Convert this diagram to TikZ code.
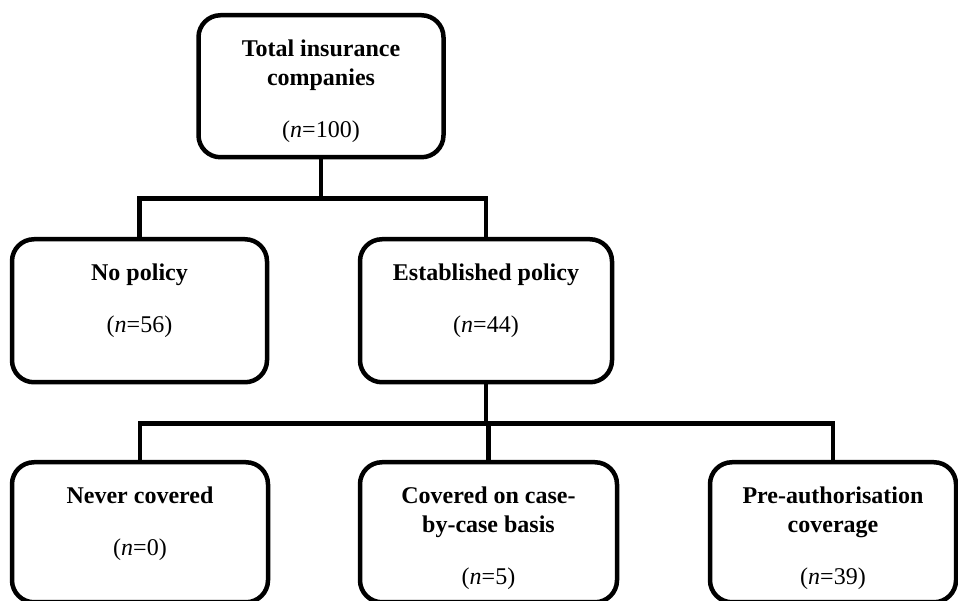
\documentclass[tikz,border=0pt]{standalone}
\usepackage{fontspec}
\setmainfont{Liberation Serif}

% text block set from the top of a box of fixed height
\newcommand{\boxtext}[2]{\parbox[c][#1][t]{240pt}{\centering\rule{0pt}{41pt}#2}}

\begin{document}
\begin{tikzpicture}[x=1pt,y=1pt,
	box/.style={draw, line width=4.5pt, rounded corners=22pt, anchor=north,
		inner sep=0pt, font=\fontsize{24}{29}\selectfont},
	link/.style={line width=4.5pt}]
	\useasboundingbox (0,0) rectangle (958,601);
	\node[box, minimum width=245pt] (total) at (321,588)
		{\boxtext{142pt}{\textbf{Total insurance}\\\textbf{companies}\\[23pt](\textit{n}=100)}};
	\node[box, minimum width=255pt] (nopol) at (139.5,364)
		{\boxtext{143pt}{\textbf{No policy}\\[23pt](\textit{n}=56)}};
	\node[box, minimum width=252pt] (estab) at (486,364)
		{\boxtext{143pt}{\textbf{Established policy}\\[23pt](\textit{n}=44)}};
	\node[box, minimum width=256pt] (never) at (140,141)
		{\boxtext{140pt}{\textbf{Never covered}\\[23pt](\textit{n}=0)}};
	\node[box, minimum width=257pt] (case) at (488.5,141)
		{\boxtext{140pt}{\textbf{Covered on case-}\\\textbf{by-case basis}\\[23pt](\textit{n}=5)}};
	\node[box, minimum width=246pt] (preauth) at (833,141)
		{\boxtext{140pt}{\textbf{Pre-authorisation}\\\textbf{coverage}\\[23pt](\textit{n}=39)}};
	\draw[link] (total.south) -- ++(0,-39) coordinate (fork1);
	\draw[link] (fork1) -| (nopol.north);
	\draw[link] (fork1) -| (estab.north);
	\draw[link] (estab.south) -- ++(0,-39) coordinate (fork2);
	\draw[link] (fork2) -| (never.north);
	\draw[link] (fork2) -| (case.north);
	\draw[link] (fork2) -| (preauth.north);
\end{tikzpicture}
\end{document}
